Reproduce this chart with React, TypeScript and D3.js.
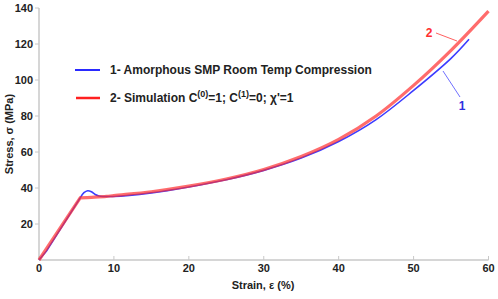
import React from "react";
import * as d3 from "d3";

const strainRed = [0, 5.5, 7, 9, 10, 15, 20, 25, 30, 35, 40, 45, 50, 55, 60];
const stressRed = [0, 34.5, 34.8, 35.3, 35.8, 37.9, 41.0, 45.0, 50.3, 57.5, 67.0, 80.0, 97.0, 116.5, 138.3];
const strainBlue = [0, 1, 5.5, 6, 6.5, 7, 7.5, 8, 10, 15, 20, 25, 30, 35, 40, 45, 50, 55, 57.4];
const stressBlue = [0, 5, 34.5, 37.4, 38.5, 37.9, 36.4, 35.6, 35.3, 37.3, 40.6, 44.6, 49.8, 56.6, 65.8, 78.0, 94.2, 112.0, 122.6];
const xTicks = [0, 10, 20, 30, 40, 50, 60];
const yTicks = [20, 40, 60, 80, 100, 120, 140];

const W = 498, H = 299;
const FONT = "'Liberation Sans', Arial, Helvetica, sans-serif";

export default function App() {
  const x = d3.scaleLinear().domain([0, 60]).range([39, 488.5]);
  const y = d3.scaleLinear().domain([0, 140]).range([260, 8]);
  const redPts: [number, number][] = strainRed.map((s, i) => [s, stressRed[i]]);
  const bluePts: [number, number][] = strainBlue.map((s, i) => [s, stressBlue[i]]);
  const lineLin = d3.line<[number, number]>().x(d => x(d[0])).y(d => y(d[1]));
  const smooth = d3.line<[number, number]>().x(d => x(d[0])).y(d => y(d[1])).curve(d3.curveCatmullRom.alpha(0.5));
  const redPath = lineLin(redPts.slice(0, 2))! + (smooth(redPts.slice(1)) || "").replace(/^M/, "L");
  const bluePath = lineLin(bluePts.slice(0, 3))! + (smooth(bluePts.slice(2)) || "").replace(/^M/, "L");
  const axisColor = "#c8c8c8";
  return (
    <svg width={W} height={H} style={{ position: "absolute", left: 0, top: 0, background: "#fff" }} fontFamily={FONT}>
      <line x1={x(0)} x2={x(60)} y1={y(0)} y2={y(0)} stroke={axisColor} strokeWidth={1.5} />
      <line x1={x(0)} x2={x(0)} y1={y(0)} y2={y(140)} stroke={axisColor} strokeWidth={1.5} />
      {xTicks.map(t => (
        <g key={"x" + t}>
          <line x1={x(t)} x2={x(t)} y1={y(0)} y2={y(0) - 4} stroke={axisColor} strokeWidth={1} />
          <text x={x(t)} y={272} textAnchor="middle" fontSize={11} fontWeight="bold" fill="#222">{t}</text>
        </g>
      ))}
      {yTicks.map(t => (
        <g key={"y" + t}>
          <line x1={x(0) - 4} x2={x(0)} y1={y(t)} y2={y(t)} stroke={axisColor} strokeWidth={1} />
          <text x={33} y={y(t) + 4} textAnchor="end" fontSize={11} fontWeight="bold" fill="#222">{t}</text>
        </g>
      ))}
      <text x={263} y={289} textAnchor="middle" fontSize={11} fontWeight="bold" fill="#222">Strain, ε (%)</text>
      <text transform="translate(13,134) rotate(-90)" textAnchor="middle" fontSize={11} fontWeight="bold" fill="#222">Stress, σ (MPa)</text>
      <path d={bluePath} fill="none" stroke="#3c3cff" strokeWidth={1.6} />
      <path d={redPath} fill="none" stroke="#ff2e2e" strokeOpacity={0.7} strokeWidth={3.2} />
      <line x1={436} y1={33} x2={457} y2={41} stroke="#ff6060" strokeWidth={1} />
      <text x={429} y={36.5} textAnchor="middle" fontSize={12} fontWeight="bold" fill="#ff3030">2</text>
      <line x1={460} y1={97} x2={443} y2={71} stroke="#7070ff" strokeWidth={1} />
      <text x={462} y={110} textAnchor="middle" fontSize={12} fontWeight="bold" fill="#3030e0">1</text>
      <line x1={75} x2={100} y1={70} y2={70} stroke="#2a2aff" strokeWidth={2} />
      <text x={110} y={74} fontSize={12} fontWeight="bold" fill="#222">1- Amorphous SMP Room Temp Compression</text>
      <line x1={76} x2={100} y1={98} y2={98} stroke="#ff2020" strokeWidth={2.5} />
      <text x={110} y={102} fontSize={12} fontWeight="bold" fill="#222">
        2- Simulation C<tspan dy={-5} fontSize={9}>(0)</tspan><tspan dy={5}>=1; C</tspan><tspan dy={-5} fontSize={9}>(1)</tspan><tspan dy={5}>=0; χ'=1</tspan>
      </text>
    </svg>
  );
}
